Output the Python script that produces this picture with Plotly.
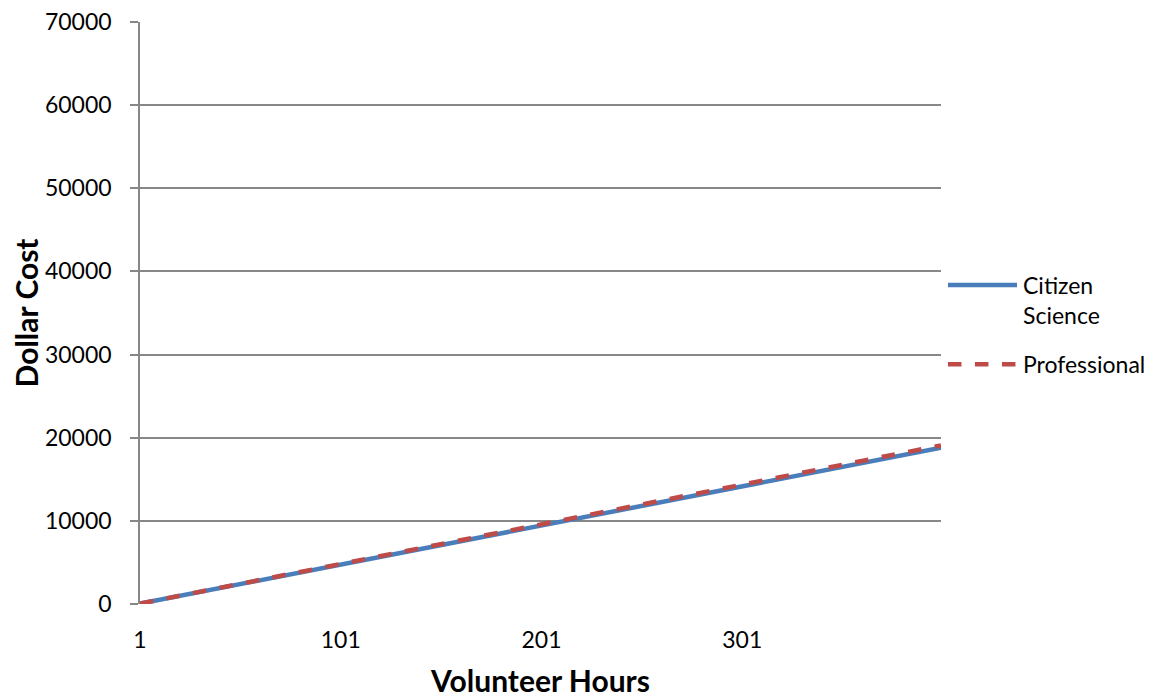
import plotly.graph_objects as go

# Data (straight lines; values at labelled hours + end)
hours = [1, 101, 201, 301, 400]
citizen_science = [47, 4750, 9450, 14150, 18800]
professional = [48, 4820, 9590, 14360, 19080]

x_tick_vals = [1, 101, 201, 301]
x_tick_text = ["1", "101", "201", "301"]
y_tick_vals = [0, 10000, 20000, 30000, 40000, 50000, 60000, 70000]
y_tick_text = [str(v) for v in y_tick_vals]

FONT = "Lato"
GRID = "#878787"
BLUE = "#4A7EBB"
RED = "#BE4B48"

fig = go.Figure()
fig.add_trace(go.Scatter(
    x=hours, y=citizen_science, mode="lines", name="Citizen Science",
    line=dict(color=BLUE, width=4.5), showlegend=False,
))
fig.add_trace(go.Scatter(
    x=hours, y=professional, mode="lines", name="Professional",
    line=dict(color=RED, width=4.5, dash="dash"), showlegend=False,
))

# Legend drawn beside the plot (paper coordinates)
legend_items = [
    ("Citizen<br>Science", BLUE, "solid", 0.548, 0.522),
    ("Professional", RED, "dash", 0.412, 0.412),
]
for text, color, dash, ly, ty in legend_items:
    fig.add_shape(type="line", xref="paper", yref="paper",
                  x0=1.0087, x1=1.0949, y0=ly, y1=ly,
                  line=dict(color=color, width=4.5, dash=dash))
    fig.add_annotation(xref="paper", yref="paper", x=1.0999, y=ty,
                       xanchor="left", yanchor="middle", showarrow=False,
                       text=text, align="left",
                       font=dict(family=FONT, size=23, color="black"))

fig.update_layout(
    width=1154, height=690,
    margin=dict(l=132, r=221, t=14, b=94, autoexpand=False),
    paper_bgcolor="white", plot_bgcolor="white",
    font=dict(family=FONT, size=23, color="black"),
    showlegend=False,
    xaxis=dict(
        range=[1, 400], tickvals=x_tick_vals, ticktext=x_tick_text,
        showgrid=False, zeroline=False, showline=False, ticks="",
        tickfont=dict(family=FONT, size=23), ticklabelstandoff=20,
        automargin=False, ticklabeloverflow="allow",
        title=dict(text="<b>Volunteer Hours</b>", font=dict(family=FONT, size=30), standoff=25),
    ),
    yaxis=dict(
        range=[0, 70000], tickvals=y_tick_vals, ticktext=y_tick_text,
        showgrid=True, gridcolor=GRID, gridwidth=1.5,
        zeroline=False, showline=True, linecolor=GRID, linewidth=1.5,
        ticks="outside", ticklen=8, tickcolor=GRID, tickwidth=1.5,
        tickfont=dict(family=FONT, size=23), ticklabelstandoff=14,
        automargin=False, ticklabeloverflow="allow",
        title=dict(text="<b>Dollar Cost</b>", font=dict(family=FONT, size=30), standoff=14),
    ),
)

fig.write_html("out.html")
